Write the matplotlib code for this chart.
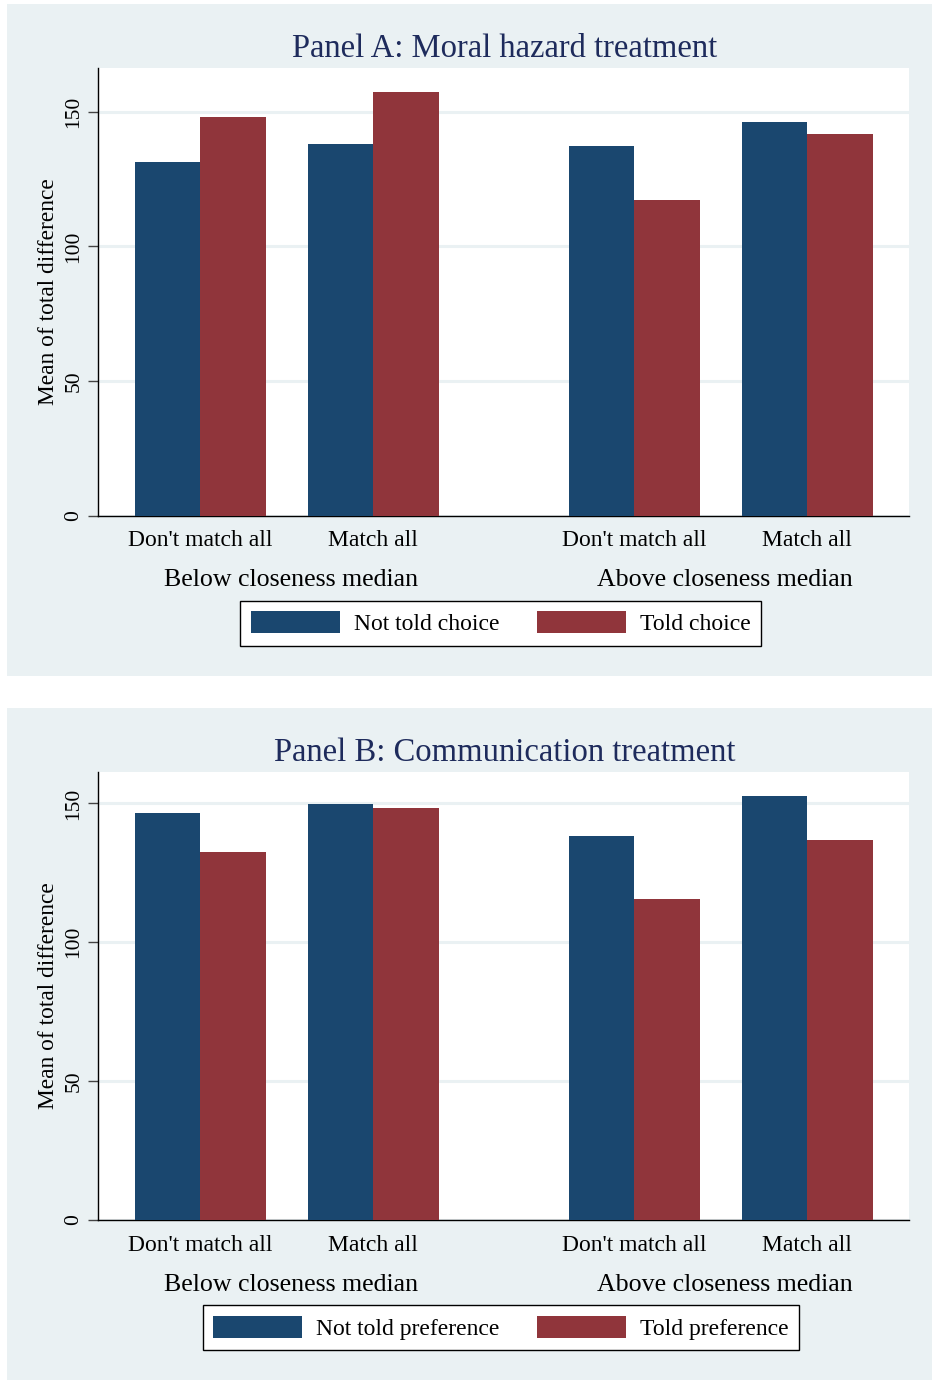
import matplotlib.pyplot as plt
import numpy as np
from matplotlib.patches import Rectangle

plt.rcParams['font.family'] = ['Liberation Serif', 'DejaVu Serif']

groups = ["Don't match all", "Match all", "Don't match all", "Match all"]
supergroups = ['Below closeness median', 'Above closeness median']

titleA = 'Panel A: Moral hazard treatment'
legendA = ['Not told choice', 'Told choice']
notToldA = [131.2, 138.0, 137.3, 146.3]
toldA = [148.1, 157.3, 117.4, 141.7]

titleB = 'Panel B: Communication treatment'
legendB = ['Not told preference', 'Told preference']
notToldB = [146.5, 149.6, 138.2, 152.6]
toldB = [132.5, 148.4, 115.6, 136.8]

yticks = [0, 50, 100, 150]
ylabel = 'Mean of total difference'

navy = '#1A476F'
maroon = '#90353B'
bg = '#EAF1F3'
titlecolor = '#1E2B5C'

W, H = 932, 1380
fig = plt.figure(figsize=(W / 100, H / 100), dpi=100)
fig.patch.set_facecolor('white')

# panel backgrounds (pixel boxes -> figure fraction), kept behind the axes
def panel(x0, y0, x1, y1):
  fig.patches.append(Rectangle((x0 / W, 1 - y1 / H), (x1 - x0) / W, (y1 - y0) / H,
                               transform=fig.transFigure, facecolor=bg, edgecolor='none', zorder=-10))

panel(7, 4, 932, 676)
panel(7, 708, 932, 1380)

# bar positions: pairs of bars, wider gap between the two closeness groups
width = 1.0
step = 2.64
extra = 1.34
centers = np.array([1.56 + i * step + (extra if i >= 2 else 0) for i in range(len(groups))])


def draw(rect, title, notTold, told, labels, ymax):
  ax = fig.add_axes(rect)
  ax.set_facecolor('white')
  ax.bar(centers - width / 2, notTold, width, color=navy, label=labels[0], zorder=3)
  ax.bar(centers + width / 2, told, width, color=maroon, label=labels[1], zorder=3)
  ax.set_xlim(0, 12.38)
  ax.set_ylim(0, ymax)
  ax.set_yticks(yticks)
  ax.yaxis.grid(True, color=bg, lw=2.2, zorder=1)
  ax.xaxis.grid(False)
  for s in ['top', 'right']:
    ax.spines[s].set_visible(False)
  ax.spines['left'].set_linewidth(1.0)
  ax.spines['bottom'].set_linewidth(1.0)
  ax.tick_params(axis='y', length=7, width=1.0, color='#444444', pad=3.5, labelsize=15.5, labelrotation=90)
  for t in ax.get_yticklabels():
    t.set_va('center')
  ax.set_xticks(centers)
  ax.set_xticklabels(groups, fontsize=17)
  ax.tick_params(axis='x', length=0, pad=10.5)
  ax.set_ylabel(ylabel, fontsize=16.8, labelpad=4)

  for k, name in enumerate(supergroups):
    cx = centers[2 * k:2 * k + 2].mean() + 0.07
    ax.annotate(name, xy=(cx, 0), xycoords=('data', 'axes fraction'), xytext=(0, -46.5),
                textcoords='offset points', ha='center', va='center', fontsize=18.6)

  ax.annotate(title, xy=(0.5, 1), xycoords='axes fraction', xytext=(1, 14),
              textcoords='offset points', ha='center', va='center', fontsize=23.5, color=titlecolor)

  leg = ax.legend(loc='center', bbox_to_anchor=(0.4965, -0.2405), ncol=2, fontsize=17,
                  frameon=True, fancybox=False, edgecolor='black', framealpha=1,
                  handlelength=3.75, handleheight=1.05, handletextpad=0.6, columnspacing=1.6,
                  borderpad=0.45, borderaxespad=0)
  leg.get_frame().set_linewidth(1.0)
  return ax


draw([98 / W, 1 - 515.7 / H, 811.3 / W, 447.7 / H], titleA, notToldA, toldA, legendA, 166.3)
draw([98 / W, 1 - 1220 / H, 811.3 / W, 448 / H], titleB, notToldB, toldB, legendB, 161.3)

fig.savefig('out.png', dpi=100)
